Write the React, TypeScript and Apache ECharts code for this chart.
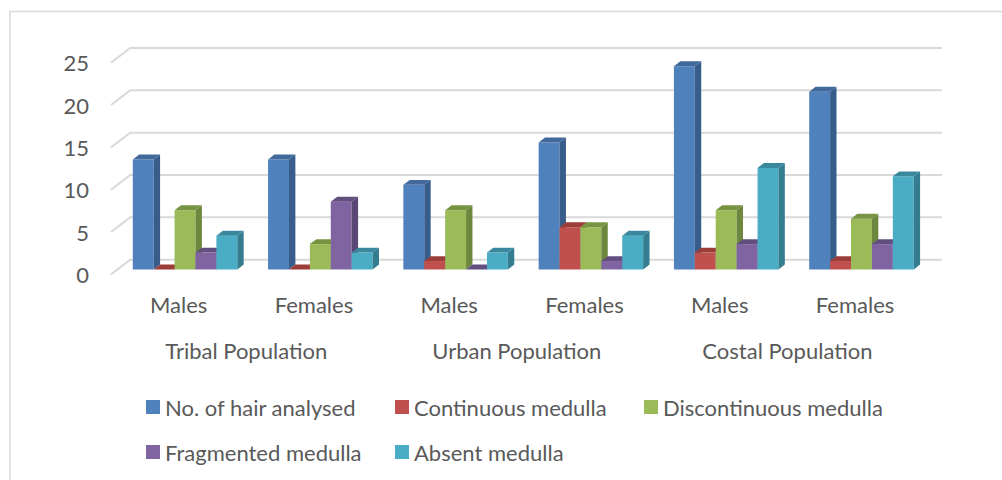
import React, { useEffect, useRef } from "react";
import * as echarts from "echarts";

// Sample groups along the category axis
const categories = ["Males", "Females", "Males", "Females", "Males", "Females"];
const populations = ["Tribal Population", "Urban Population", "Costal Population"];

// Medulla counts per category, one array per series
const seriesNames = [
  "No. of hair analysed",
  "Continuous medulla",
  "Discontinuous medulla",
  "Fragmented medulla",
  "Absent medulla",
];
const hairAnalysed = [13, 13, 10, 15, 24, 21];
const continuousMedulla = [0, 0, 1, 5, 2, 1];
const discontinuousMedulla = [7, 3, 7, 5, 7, 6];
const fragmentedMedulla = [2, 8, 0, 1, 3, 3];
const absentMedulla = [4, 2, 2, 4, 12, 11];
const seriesValues = [
  hairAnalysed,
  continuousMedulla,
  discontinuousMedulla,
  fragmentedMedulla,
  absentMedulla,
];

const yTicks = [0, 5, 10, 15, 20, 25];

// Face colours for each series: front, side, top
const faceColors = [
  ["#4F81BD", "#385D8A", "#41699C"],
  ["#C0504D", "#8C3A38", "#9C3D3A"],
  ["#9BBB59", "#6E873F", "#779443"],
  ["#8064A2", "#5B4775", "#634E80"],
  ["#4BACC6", "#347D90", "#3A889D"],
];

// 3D depth offsets (one third of the floor depth per step)
const DDX = 6.4;
const DDY = -4.9;
const BAR_RATIO = 0.1545; // bar width relative to category width

const FONT = "Lato, 'Open Sans', sans-serif";
const FONT_SIZE = 22;
const TEXT_COLOR = "#595959";
const GRID_COLOR = "#D9D9D9";

export default function App() {
  const ref = useRef<HTMLDivElement>(null);

  useEffect(() => {
    if (!ref.current) return;
    const chart = echarts.init(ref.current, undefined, { renderer: "svg" });

    const wallSeries: any = {
      type: "custom",
      name: "wall",
      silent: true,
      z: 1,
      data: yTicks.map((v) => [0, v]),
      encode: { x: 0, y: 1 },
      renderItem: (params: any, api: any) => {
        const cs = params.coordSys;
        const y = api.coord([0, api.value(1)])[1];
        const wx = DDX * 3;
        const wy = DDY * 3;
        return {
          type: "polyline",
          shape: {
            points: [
              [cs.x, y],
              [cs.x + wx, y + wy],
              [cs.x + cs.width + wx, y + wy],
            ],
          },
          style: { stroke: GRID_COLOR, lineWidth: 2, fill: "none" },
        };
      },
    };

    const barSeries = seriesValues.map((vals, sIdx) => ({
      type: "custom",
      name: seriesNames[sIdx],
      z: 2 + sIdx,
      itemStyle: { color: faceColors[sIdx][0] },
      data: vals.map((v, i) => [i, v]),
      encode: { x: 0, y: 1 },
      renderItem: (params: any, api: any) => {
        const cat = api.value(0);
        const val = api.value(1);
        const top = api.coord([cat, val]);
        const base = api.coord([cat, 0]);
        const catW = api.size([1, 0])[0];
        const barW = catW * BAR_RATIO;
        const x0 = base[0] - (barW * 5) / 2 + sIdx * barW + DDX;
        const yb = base[1] + DDY;
        const yt = top[1] + DDY;
        const [cf, cs, ct] = faceColors[sIdx];
        return {
          type: "group",
          children: [
            {
              type: "rect",
              shape: { x: x0, y: yt, width: barW, height: yb - yt },
              style: { fill: cf },
            },
            {
              type: "polygon",
              shape: {
                points: [
                  [x0 + barW, yt],
                  [x0 + barW + DDX, yt + DDY],
                  [x0 + barW + DDX, yb + DDY],
                  [x0 + barW, yb],
                ],
              },
              style: { fill: cs },
            },
            {
              type: "polygon",
              shape: {
                points: [
                  [x0, yt],
                  [x0 + DDX, yt + DDY],
                  [x0 + barW + DDX, yt + DDY],
                  [x0 + barW, yt],
                ],
              },
              style: { fill: ct },
            },
          ],
        };
      },
    }));

    const legendPos = [
      [146, 396],
      [395, 396],
      [644, 396],
      [146, 441],
      [395, 441],
    ];

    chart.setOption({
      animation: false,
      backgroundColor: "#FFFFFF",
      textStyle: { fontFamily: FONT },
      graphic: [
        {
          type: "rect",
          shape: { x: 10, y: 11.5, width: 1100, height: 600 },
          style: { fill: "none", stroke: GRID_COLOR, lineWidth: 1.5 },
          silent: true,
        },
      ],
      legend: legendPos.map(([left, top], i) => ({
        left,
        top,
        padding: 0,
        data: [{ name: seriesNames[i], icon: "rect" }],
        itemWidth: 14,
        itemHeight: 14,
        itemGap: 0,
        selectedMode: false,
        textStyle: { fontFamily: FONT, fontSize: FONT_SIZE, color: TEXT_COLOR },
      })),
      grid: { left: 111, top: 62.7, width: 811.7, height: 211.7 },
      xAxis: [
        {
          type: "category",
          data: categories,
          axisLine: { show: false },
          axisTick: { show: false },
          axisLabel: {
            margin: 19,
            fontSize: FONT_SIZE,
            color: TEXT_COLOR,
            fontFamily: FONT,
          },
        },
        {
          type: "category",
          data: populations,
          position: "bottom",
          offset: 46,
          axisLine: { show: false },
          axisTick: { show: false },
          axisLabel: {
            margin: 19,
            fontSize: FONT_SIZE,
            color: TEXT_COLOR,
            fontFamily: FONT,
          },
        },
      ],
      yAxis: {
        type: "value",
        min: 0,
        max: 25,
        interval: 5,
        axisLine: { show: false },
        axisTick: { show: false },
        splitLine: { show: false },
        axisLabel: {
          margin: 22,
          fontSize: FONT_SIZE,
          color: TEXT_COLOR,
          fontFamily: FONT,
        },
      },
      series: [wallSeries, ...barSeries],
    });

    return () => chart.dispose();
  }, []);

  return (
    <div
      ref={ref}
      style={{ position: "fixed", left: 0, top: 0, width: 1002, height: 480 }}
    />
  );
}
